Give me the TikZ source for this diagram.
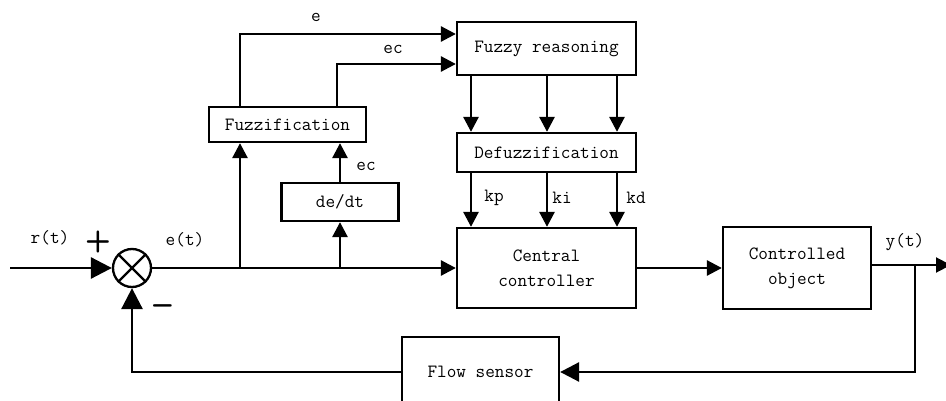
\documentclass[tikz,border=0pt]{standalone}
\usepackage{fontspec}
\usetikzlibrary{arrows.meta,calc}
\begin{document}
\begin{tikzpicture}[x=1pt,y=-1pt,
  box/.style={draw, line width=2.3pt, inner sep=0pt, align=center,
    font=\fontsize{18.7}{25}\selectfont\ttfamily},
  lbl/.style={font=\fontsize{18.7}{20}\selectfont\ttfamily, inner sep=0pt},
  conn/.style={line width=2.8pt},
  arr/.style={conn, -{Triangle[length=15pt,width=15pt]}},
  bigarr/.style={conn, -{Triangle[length=21pt,width=21pt]}}]
\useasboundingbox (0,0) rectangle (946,401);

% blocks
\node[box, minimum width=157pt, minimum height=35pt] (fuzz) at (287.5,124.5) {Fuzzification};
\node[box, minimum width=117pt, minimum height=38pt] (dedt) at (340,202) {de/dt};
\node[box, minimum width=179pt, minimum height=53pt] (fr) at (546.5,48.5) {Fuzzy reasoning};
\node[box, minimum width=179pt, minimum height=39pt] (df) at (546.5,152.5) {Defuzzification};
\node[box, minimum width=179pt, minimum height=80pt] (cc) at (546.5,268) {Central\\controller};
\node[box, minimum width=148pt, minimum height=82pt] (co) at (797,268) {Controlled\\object};
\node[box, minimum width=157pt, minimum height=70pt] (fs) at (480.5,372) {Flow sensor};

% summing junction
\node[draw, circle, line width=2.3pt, minimum size=38pt, inner sep=0pt] (sum) at (132,268) {};
\draw[line width=2.3pt] (sum.north west) -- (sum.south east) (sum.north east) -- (sum.south west);

% coordinates
\coordinate (in) at (10,268);
\coordinate (b1) at (240,268);
\coordinate (b2) at (340,268);
\coordinate (out) at (951,265);
\coordinate (tap) at (915,265);

% forward path
\draw[bigarr] (in) -- (sum.west);
\draw[arr] (sum.east) -- (cc.west);
\draw[arr] (b1) -- (b1 |- fuzz.south);
\draw[arr] (b2) -- (dedt.south);
\draw[arr] (dedt.north) -- (dedt.north |- fuzz.south);
\draw[arr] (fuzz.north -| b1) |- ([yshift=14.5pt]fr.west);
\draw[arr] ([xshift=49.5pt]fuzz.north) |- ([yshift=-15.5pt]fr.west);
\foreach \dx in {-75.5,0.5,70.5}{
  \draw[arr] ([xshift=\dx pt]fr.south) -- ([xshift=\dx pt]df.north);
  \draw[arr] ([xshift=\dx pt]df.south) -- ([xshift=\dx pt]cc.north);
}
\draw[arr] (cc.east) -- (co.west);
\draw[arr, line width=2pt] ([yshift=3pt]co.east) -- (out);

% feedback path
\draw[arr, -{Triangle[length=19pt,width=19pt]}] (tap) |- (fs.east);
\draw[bigarr] (fs.west) -| (sum.south);

% labels
\node[lbl] at (50,238) {r(t)};
\node[font=\fontsize{30}{30}\selectfont\bfseries\sffamily, inner sep=0pt] at (98,242) {+};
\node[lbl] at (185,240) {e(t)};
\node[font=\fontsize{34}{34}\selectfont\bfseries\sffamily, inner sep=0pt] at (163,310) {\textendash};
\node[lbl] at (316,17) {e};
\node[lbl] at (393,49) {ec};
\node[lbl] at (366,166) {ec};
\node[lbl] at (494,198) {kp};
\node[lbl] at (562,198) {ki};
\node[lbl] at (636,198) {kd};
\node[lbl] at (905,242) {y(t)};
\end{tikzpicture}
\end{document}
